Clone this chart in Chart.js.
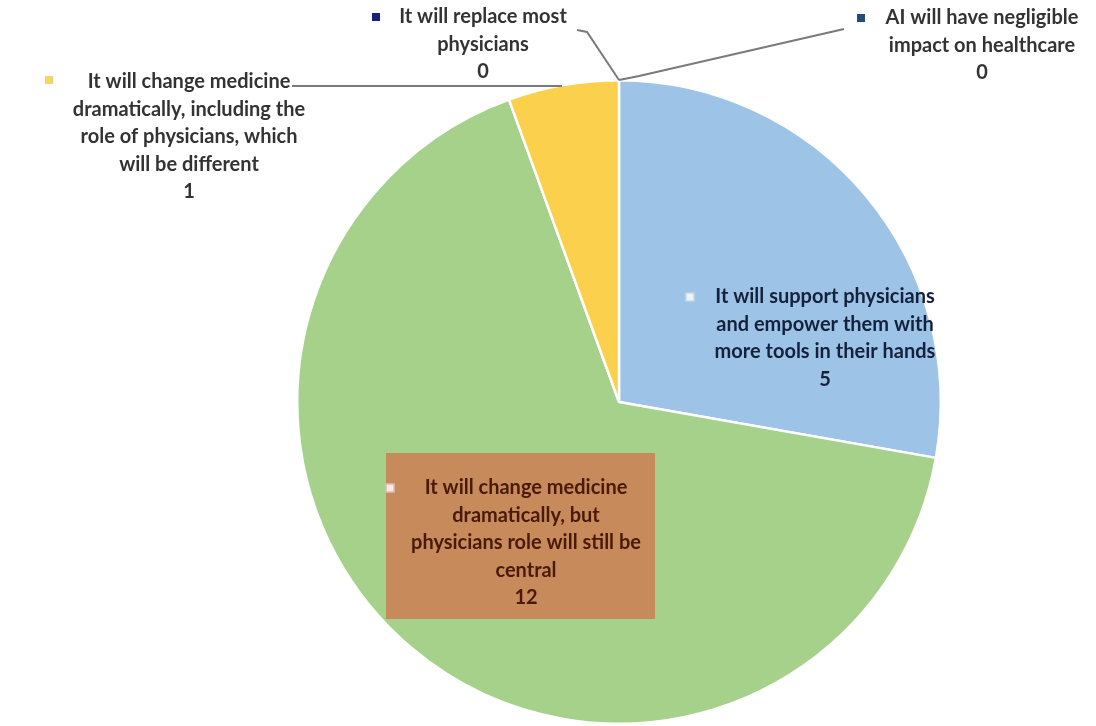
<!DOCTYPE html>
<html>
<head>
<meta charset="utf-8">
<script src="https://cdn.jsdelivr.net/npm/chart.js@4/dist/chart.umd.min.js"></script>
<style>
html,body{margin:0;padding:0;background:#fff;}
#wrap{width:1096px;height:726px;position:relative;}
</style>
</head>
<body>
<div id="wrap"><canvas id="c" width="1096" height="726"></canvas></div>
<script>
const categories = [
  "It will support physicians and empower them with more tools in their hands",
  "It will change medicine dramatically, but physicians role will still be central",
  "It will change medicine dramatically, including the role of physicians, which will be different",
  "It will replace most physicians",
  "AI will have negligible impact on healthcare"
];
const values = [5, 12, 1, 0, 0];
const colors = ["#9DC3E6", "#A5D18B", "#FAD04C", "#1F2F7A", "#1F4E79"];
const labelLines = [
  ["It will support physicians", "and empower them with", "more tools in their hands"],
  ["It will change medicine", "dramatically, but", "physicians role will still be", "central"],
  ["It will change medicine", "dramatically, including the", "role of physicians, which", "will be different"],
  ["It will replace most", "physicians"],
  ["AI will have negligible", "impact on healthcare"]
];

const FONT = "bold 20px Lato";
const LH = 27.5;

const labelPlugin = {
  id: 'labels',
  afterDatasetsDraw(chart) {
    const ctx = chart.ctx;
    const arc = chart.getDatasetMeta(0).data[0];
    const cx = arc.x, cy = arc.y;
    ctx.save();
    // leader lines
    ctx.strokeStyle = "#7a7a7a";
    ctx.lineWidth = 2;
    ctx.beginPath();
    ctx.moveTo(cx - 327, cy - 316); ctx.lineTo(cx - 57, cy - 316);
    ctx.moveTo(cx - 42, cy - 372); ctx.lineTo(cx - 32, cy - 370); ctx.lineTo(cx, cy - 322);
    ctx.moveTo(cx, cy - 322); ctx.lineTo(cx + 20, cy - 326); ctx.lineTo(cx + 225, cy - 373);
    ctx.stroke();
    // orange box behind green label
    ctx.fillStyle = "#C68A5B";
    ctx.fillRect(cx - 233, cy + 51, 269, 166);

    ctx.font = FONT;
    ctx.textAlign = "center";
    ctx.textBaseline = "middle";
    // positions: [centerX, firstLineY, markerX, markerY, textColor, markerFill, markerStroke]
    const pos = [
      [cx + 206, cy - 105, cx + 71, cy - 105, "#14213d", "#eef3f8", "#c8d6e6"],
      [cx - 93, cy + 86, cx - 229, cy + 86, "#4a1a08", "#f6eaea", "#e8b8b8"],
      [cx - 430, cy - 320, cx - 570, cy - 322, "#333333", "#F3D36A", null],
      [cx - 136, cy - 385, cx - 243, cy - 385, "#333333", "#16237a", null],
      [cx + 363, cy - 384, cx + 242, cy - 384, "#333333", "#1F4E79", null]
    ];
    for (let i = 0; i < categories.length; i++) {
      const p = pos[i];
      const lines = labelLines[i].concat([String(values[i])]);
      ctx.fillStyle = p[4];
      lines.forEach((t, k) => ctx.fillText(t, p[0], p[1] + k * LH));
      ctx.fillStyle = p[5];
      ctx.fillRect(p[2] - 4, p[3] - 4, 8, 8);
      if (p[6]) { ctx.strokeStyle = p[6]; ctx.lineWidth = 1.5; ctx.strokeRect(p[2] - 4, p[3] - 4, 8, 8); }
    }
    ctx.restore();
  }
};

new Chart(document.getElementById('c'), {
  type: 'pie',
  data: {
    labels: categories,
    datasets: [{
      data: values,
      backgroundColor: colors,
      borderColor: "#ffffff",
      borderWidth: 2.5
    }]
  },
  options: {
    responsive: false,
    animation: false,
    layout: { padding: { left: 294, right: 152, top: 79, bottom: 1 } },
    plugins: { legend: { display: false }, tooltip: { enabled: false } }
  },
  plugins: [labelPlugin]
});
</script>
</body>
</html>
